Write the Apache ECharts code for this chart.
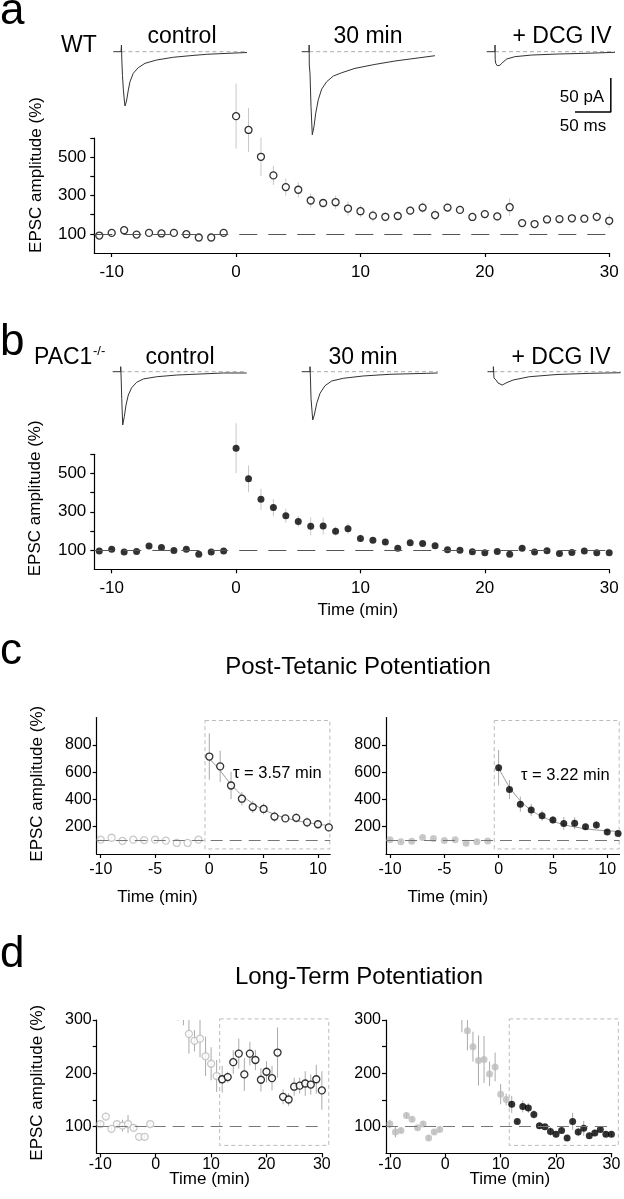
<!DOCTYPE html>
<html><head><meta charset="utf-8">
<script src="https://cdn.jsdelivr.net/npm/echarts@6/dist/echarts.min.js"></script>
<style>html,body{margin:0;padding:0;background:#fff}#c{width:624px;height:1199px}</style>
</head><body><div id="c"></div>
<script>
// ---------- data ----------
const minutes = [-11,-10,-9,-8,-7,-6,-5,-4,-3,-2,-1,0,1,2,3,4,5,6,7,8,9,10,11,12,13,14,15,16,17,18,19,20,21,22,23,24,25,26,27,28,29,30];
const wtAmp = [91,105,119,96,105,102,105,98,81,81,105,714,642,502,405,344,330,274,261,265,232,218,195,189,193,221,237,198,237,225,188,203,191,239,156,151,175,177,181,179,189,168];
const wtErr = [5,6,6,5,6,11,17,6,5,5,5,170,115,100,50,45,40,37,20,35,37,31,30,25,10,22,28,31,22,19,22,20,23,47,14,12,17,15,23,19,27,36];
const koAmp = [95,105,90,93,121,114,98,105,79,90,95,632,472,365,322,280,250,224,226,199,212,161,151,142,110,138,135,123,102,100,91,86,93,79,110,90,97,83,88,95,86,86];
const koErr = [5,8,10,5,6,5,5,5,5,5,5,130,70,55,45,37,28,47,44,23,27,19,11,16,5,11,9,8,5,5,8,6,5,5,16,8,14,6,6,6,5,5];
const fitTime = [0,1,2,3,4,5,6,7,8,9,10,11];
const wtFit = [700,610,510,430,370,325,290,265,245,230,218,208];
const koFit = [630,490,390,320,275,240,215,198,185,176,170,165];
const wtTau = 'τ = 3.57 min', koTau = 'τ = 3.22 min';
const baseline = 100;
const ptpBox = [-0.4, 11.1, 37, 978];
const ltpBox = [11.55, 31.25, 65, 302];
const ticksAB = [100,200,300,400,500,600], labelsAB = [100,300,500];
const ticksC = [200,400,600,800];
const ticksD = [100,150,200,250,300], labelsD = [100,200,300];
const xTicksAB = [-10,0,10,20,30], xTicksC = [-10,-5,0,5,10];
// EPSC traces: [time ms, current pA]
const trWTctrl = [[0,0],[10.8,0],[11.4,9.8],[11.9,-12],[12.8,-35],[14,-55],[15.4,-71],[16.3,-79.8],[17.7,-75.4],[18.7,-71],[21,-56.3],[23.3,-44.1],[27.9,-31.8],[34.9,-23.5],[44.3,-17.1],[60.6,-12.2],[83.8,-8.2],[107.1,-5.9],[130.5,-3.8],[149,-2.9],[186.8,-1.2]];
const trWT30 = [[0,0],[10.2,0],[10.4,9.8],[10.6,-19.6],[11.6,-31.8],[13,-80.7],[14.8,-122.2],[17.2,-110],[19.6,-90.4],[23.2,-70.6],[27.9,-55],[34.9,-44.1],[44.1,-35.8],[55.8,-31],[74.4,-24.5],[102.3,-18.7],[130.2,-13.7],[158.2,-9.8],[186.1,-5.9]];
const trWTdcg = [[0,0],[11.6,0],[11.6,9.8],[11.9,-12],[12.6,-17],[14.5,-20.5],[16.3,-22],[18.5,-20],[21,-17],[28,-10.7],[39.6,-7.3],[62.9,-4.9],[100,-3.4],[137.3,-2.4],[179.2,-0.9]];
const trKOctrl = [[0,0],[11.2,0],[11.2,7.4],[11.9,-12.2],[12.6,-39.1],[14,-78.4],[16.2,-66.2],[18.6,-49],[21.8,-34.3],[26.5,-23.5],[33.5,-15.6],[42.7,-10.7],[61.5,-7.4],[89.4,-4.9],[122,-3.4],[154.5,-1.9],[187.2,-1.9]];
const trKO30 = [[0,0],[11.6,0],[11.6,7.4],[12.3,-12.2],[13,-39.1],[15.4,-71],[17.6,-63.7],[21,-46.5],[25.6,-31.8],[32.5,-20.6],[41.9,-13.7],[58.1,-9.7],[86,-6.3],[123.3,-3.8],[174.6,-2.4],[190,-1.9]];
const trKOdcg = [[0,0],[8.2,0],[8.2,7.4],[9.1,-9.3],[11.9,-12.2],[14.7,-16.6],[20.5,-19.6],[27.2,-15.9],[36,-12.2],[58.4,-7.4],[97.1,-4.1],[143.2,-2.4],[186,-1.5]];
const scaleBarMs = 50, scaleBarPA = 50;

// ---------- helpers ----------
const FONT = "'Liberation Sans', Arial, Helvetica, sans-serif";
const zip = (amp, err) => minutes.map((t, i) => err ? [t, amp[i], err[i]] : [t, amp[i]]);
const sel = (arr, f) => arr.filter(d => f(d[0]));

const grids = [
  {left:94.3, top:138, width:514.9, height:115},
  {left:94.3, top:454.3, width:514.9, height:115},
  {left:96.7, top:717.5, width:233.5, height:136.5},
  {left:386, top:717.5, width:233.5, height:136.5},
  {left:96.7, top:1020, width:225.7, height:133.4},
  {left:386, top:1020, width:225.7, height:133.4},
  {left:113.3, top:41.5, width:136, height:105.4},
  {left:301.7, top:41.5, width:136, height:105.4},
  {left:486.7, top:41.5, width:136, height:105.4},
  {left:112.7, top:361.5, width:136, height:105.4},
  {left:301.7, top:361.5, width:136, height:105.4},
  {left:487.5, top:361.5, width:136, height:105.4}
];

function xAx(gi, min, max, ticks, o) {
  return {gridIndex:gi, type:'value', min, max, position:'bottom',
    axisLine:{show:true, onZero:false, lineStyle:{color:'#000', width:1.2}},
    axisTick:{show:true, customValues:ticks, length:4, lineStyle:{color:'#000', width:1.2}},
    axisLabel:{customValues:ticks, fontSize:o.fs, margin:o.margin, color:'#000', fontFamily:FONT},
    splitLine:{show:false},
    name:o.name || '', nameLocation:'middle', nameGap:o.gap || 20, nameMoveOverlap:false,
    nameTextStyle:{fontSize:17, fontFamily:FONT, color:'#000', padding:o.pad || 0}};
}
function yAx(gi, min, max, ticks, labels, o) {
  return {gridIndex:gi, type:'value', min, max, position:'left',
    axisLine:{show:true, onZero:false, lineStyle:{color:'#000', width:1.2}},
    axisTick:{show:true, customValues:ticks, length:4, lineStyle:{color:'#000', width:1.2}},
    axisLabel:{customValues:labels, fontSize:o.fs, margin:o.margin, color:'#000', fontFamily:FONT},
    splitLine:{show:false},
    name:o.noName ? '' : 'EPSC amplitude (%)', nameLocation:'middle', nameGap:o.gap, nameMoveOverlap:false,
    nameTextStyle:{fontSize:17, fontFamily:FONT, color:'#000', padding:o.pad || 0}};
}
const hidden = (gi, min, max) => ({gridIndex:gi, type:'value', min, max, show:false, splitLine:{show:false}});

const xAxes = [
  xAx(0, -11.4, 30, xTicksAB, {fs:17, margin:11}),
  xAx(1, -11.4, 30, xTicksAB, {fs:17, margin:11, name:'Time (min)', gap:33, pad:[0,0,0,12]}),
  xAx(2, -10.37, 11.13, xTicksC, {fs:16, margin:8, name:'Time (min)', gap:35, pad:[0,112,0,0]}),
  xAx(3, -10.37, 11.13, xTicksC, {fs:16, margin:8, name:'Time (min)', gap:35, pad:[0,110,0,0]}),
  xAx(4, -10.66, 30.1, xTicksAB, {fs:16, margin:3, name:'Time (min)', gap:17}),
  xAx(5, -10.7, 30.05, xTicksAB, {fs:16, margin:3, name:'Time (min)', gap:17, pad:[0,0,0,22]})
];
const yAxes = [
  yAx(0, 0, 600, ticksAB, labelsAB, {fs:17, margin:8, gap:49, pad:[0,0,0,41]}),
  yAx(1, 0, 600, ticksAB, labelsAB, {fs:17, margin:8, gap:50, pad:[0,0,0,27]}),
  yAx(2, 0, 1000, ticksC, ticksC, {fs:16, margin:5, gap:51, pad:[0,0,0,4]}),
  yAx(3, 0, 1000, ticksC, ticksC, {fs:16, margin:5, gap:51, noName:true}),
  yAx(4, 50, 300, ticksD, labelsD, {fs:16, margin:5, gap:51, pad:[0,0,0,8]}),
  yAx(5, 50, 300, ticksD, labelsD, {fs:16, margin:5, gap:51, noName:true})
];
for (let g = 6; g < 12; g++) { xAxes.push(hidden(g, 0, 190)); yAxes.push(hidden(g, -140, 15)); }

const series = [];
function errBars(gi, data, color, clip) {
  series.push({type:'custom', xAxisIndex:gi, yAxisIndex:gi, clip, silent:true, z:1,
    encode:{x:0, y:1}, data,
    renderItem(params, api) {
      const x = api.value(0), y = api.value(1), e = api.value(2);
      const p1 = api.coord([x, y - e]), p2 = api.coord([x, y + e]);
      return {type:'line', shape:{x1:p1[0], y1:p1[1], x2:p2[0], y2:p2[1]}, style:{stroke:color, lineWidth:1}};
    }});
}
function dots(gi, data, open, color, clip, size) {
  series.push({type:'scatter', xAxisIndex:gi, yAxisIndex:gi, clip, silent:true, z:3,
    symbol:'circle', symbolSize:size,
    itemStyle: open ? {color:'#fff', borderColor:color, borderWidth:1.3} : {color:color, borderWidth:0},
    data});
}
function refLine(gi, dash, color) {
  series.push({type:'line', xAxisIndex:gi, yAxisIndex:gi, data:[], silent:true,
    markLine:{silent:true, symbol:['none','none'], label:{show:false}, animation:false,
      lineStyle:{color, width:1, type:dash}, data:[{yAxis:baseline}]}});
}
function box(gi, b) {
  series.push({type:'custom', xAxisIndex:gi, yAxisIndex:gi, clip:false, silent:true, z:0,
    data:[b],
    renderItem(params, api) {
      const p1 = api.coord([api.value(0), api.value(3)]), p2 = api.coord([api.value(1), api.value(2)]);
      return {type:'rect', shape:{x:p1[0], y:p1[1], width:p2[0]-p1[0], height:p2[1]-p1[1]},
        style:{fill:'none', stroke:'#bbb', lineWidth:1, lineDash:[4,3]}};
    }});
}
function trace(gi, data) {
  const last = data[data.length - 1][0], art = data[2][0];
  series.push({type:'line', xAxisIndex:gi, yAxisIndex:gi, data:[[art,0],[last,0]], showSymbol:false, silent:true,
    lineStyle:{color:'#aaa', width:1, type:[4,3]}, z:1});
  series.push({type:'line', xAxisIndex:gi, yAxisIndex:gi, data, showSymbol:false, silent:true,
    lineStyle:{color:'#333', width:1}, z:2});
}

const wt = zip(wtAmp, wtErr), ko = zip(koAmp, koErr);
// panel a
refLine(0, [18,11], '#555');
errBars(0, wt, '#c8c8c8', false);
dots(0, wt.map(d => [d[0], d[1]]), true, '#000', false, 7);
// panel b
refLine(1, [18,11], '#555');
errBars(1, ko, '#c8c8c8', false);
dots(1, ko.map(d => [d[0], d[1]]), false, '#000', false, 7);
// panel c
[[2, wt, wtFit, true], [3, ko, koFit, false]].forEach(([gi, d, fit, open]) => {
  box(gi, ptpBox);
  refLine(gi, [12,7], '#777');
  errBars(gi, d, '#aaa', true);
  series.push({type:'line', xAxisIndex:gi, yAxisIndex:gi, data:fitTime.map((t,i)=>[t, fit[i]]), showSymbol:false,
    smooth:0.3, silent:true, lineStyle:{color:'#999', width:1}, z:2});
  dots(gi, sel(d, t => t < 0).map(p => [p[0], p[1]]), open, '#bbb', true, 7);
  dots(gi, sel(d, t => t >= 0).map(p => [p[0], p[1]]), open, '#000', true, 7);
});
// panel d
[[4, wt, true], [5, ko, false]].forEach(([gi, d, open]) => {
  box(gi, ltpBox);
  refLine(gi, [12,7], '#777');
  errBars(gi, d, '#aaa', true);
  dots(gi, sel(d, t => t < 12).map(p => [p[0], p[1]]), open, '#bbb', true, 7);
  dots(gi, sel(d, t => t >= 12).map(p => [p[0], p[1]]), open, '#000', true, 7);
});
// traces
[trWTctrl, trWT30, trWTdcg, trKOctrl, trKO30, trKOdcg].forEach((d, i) => trace(6 + i, d));
// scale bar (in DCG trace coordinates)
const sbX = 173.4, sbY = -88.6;
series.push({type:'line', xAxisIndex:8, yAxisIndex:8, showSymbol:false, silent:true,
  data:[[sbX - scaleBarMs, sbY],[sbX, sbY],[sbX, sbY + scaleBarPA]], lineStyle:{color:'#000', width:1.5}});

const txt = (text, x, y, size, align, extra) => ({type:'text', x, y, silent:true,
  style:Object.assign({text, font:size + 'px ' + FONT, fill:'#000', textAlign:align || 'left', textVerticalAlign:'middle'}, extra || {})});

const graphics = [
  txt('a', 0, 11.4, 44), txt('b', 0, 343, 44), txt('c', 0, 651.4, 44), txt('d', 0, 954.7, 44),
  txt('WT', 61, 45.9, 23),
  txt('control', 182, 36.2, 23, 'center'), txt('30 min', 368, 36.2, 23, 'center'), txt('+ DCG IV', 562, 36.2, 23, 'center'),
  txt('PAC1', 34, 357.9, 23), txt('-/-', 93, 351, 13),
  txt('control', 180, 357.9, 23, 'center'), txt('30 min', 363, 357.9, 23, 'center'), txt('+ DCG IV', 561, 357.9, 23, 'center'),
  txt('50 pA', 582, 97, 17, 'center'), txt('50 ms', 583, 126, 17, 'center'),
  txt('Post-Tetanic Potentiation', 358, 667.6, 24, 'center'),
  txt('Long-Term Potentiation', 359, 977.6, 24, 'center'),
  txt(wtTau, 233, 773.2, 16.5), txt(koTau, 521, 775, 16.5)
];

const chart = echarts.init(document.getElementById('c'), null, {renderer:'canvas'});
chart.setOption({animation:false, backgroundColor:'#fff', grid:grids, xAxis:xAxes, yAxis:yAxes, series,
  graphic:{elements:graphics}});
</script></body></html>
